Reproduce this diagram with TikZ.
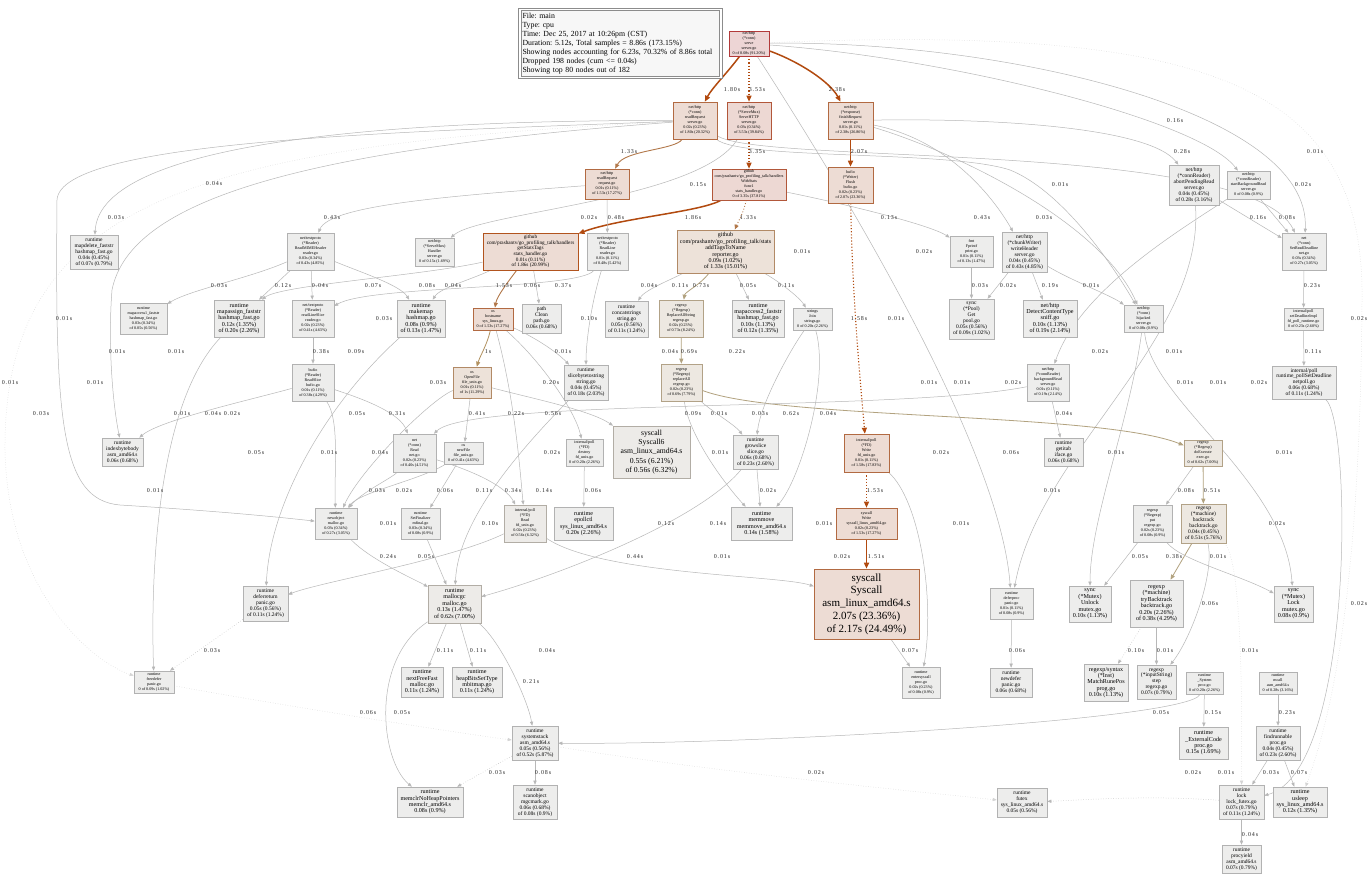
\documentclass[tikz,border=0pt]{standalone}
\usepackage{fontspec}
\setmainfont{Liberation Serif}
\newfontfamily\lblfont{Liberation Serif}[LetterSpace=15]
\usetikzlibrary{arrows.meta}
\pgfdeclarelayer{bg}
\pgfsetlayers{bg,main}
\newcommand{\fszA}{\fontsize{4.1}{5.0}\selectfont}
\newcommand{\fszB}{\fontsize{5.5}{5.9}\selectfont}
\newcommand{\fszC}{\fontsize{6.1}{6.4}\selectfont}
\newcommand{\fszG}{\fontsize{5.2}{5.6}\selectfont}
\newcommand{\fszT}{\fontsize{6.0}{6.4}\selectfont}
\newcommand{\fszD}{\fontsize{7.7}{9.4}\selectfont}
\newcommand{\fszE}{\fontsize{11}{12.7}\selectfont}
\newcommand{\fszL}{\fontsize{7.8}{9}\selectfont\frenchspacing}
\newcommand{\fszN}{\fontsize{6}{6}\selectfont}
\newcommand{\mkbox}[7]{\node[#1, font=#2, minimum width=#3pt, minimum height=#4pt] (#5) at (#6) {#7};}
\definecolor{gF}{HTML}{EDEDEC}\definecolor{gD}{HTML}{B2B2B2}
\definecolor{pF}{HTML}{EDDCD4}\definecolor{pD}{HTML}{B26A42}
\definecolor{rF}{HTML}{EDD5D5}\definecolor{rD}{HTML}{B23A3A}
\definecolor{r2F}{HTML}{EDD8D3}\definecolor{r2D}{HTML}{B2573A}
\definecolor{tF}{HTML}{EDE2D9}\definecolor{tD}{HTML}{B28A66}
\definecolor{bF}{HTML}{EDE8E1}\definecolor{bD}{HTML}{B2A287}
\definecolor{wF}{HTML}{EDEBE8}\definecolor{wD}{HTML}{B2ADA5}
\definecolor{lgF}{HTML}{F7F7F7}
\definecolor{eB}{HTML}{B24A0F}\definecolor{eM}{HTML}{B2784A}
\definecolor{eH}{HTML}{B2915F}\definecolor{eR}{HTML}{B2A27F}
\definecolor{eG}{HTML}{B8B8B8}\definecolor{eF}{HTML}{D4D4D4}
\tikzset{
 box/.style={rectangle, inner sep=0pt, align=center, line width=0.6pt, text=black},
 gn/.style={box, fill=gF, draw=gD},
 pn/.style={box, fill=pF, draw=pD},
 rn/.style={box, fill=rF, draw=rD},
 r2n/.style={box, fill=r2F, draw=r2D},
 tn/.style={box, fill=tF, draw=tD},
 bn/.style={box, fill=bF, draw=bD},
 wn/.style={box, fill=wF, draw=wD},
 lgd/.style={rectangle, draw=black!45, line width=1pt, double=white, double distance=1.4pt, fill=lgF, align=left, text width=196pt, inner xsep=2.5pt, inner ysep=2pt, minimum height=68pt, font=\fszL},
 eb/.style={draw=eB, line width=1.5pt, -{Triangle[length=6pt,width=5pt]}},
 ebd/.style={draw=eB, line width=1.1pt, dotted, -{Triangle[length=6pt,width=5pt]}},
 em/.style={draw=eM, line width=0.9pt, -{Triangle[length=5pt,width=4pt]}},
 eh/.style={draw=eH, line width=0.8pt, -{Triangle[length=5pt,width=4pt]}},
 er/.style={draw=eR, line width=0.8pt, -{Triangle[length=5pt,width=4pt]}},
 eg/.style={draw=eG, line width=0.5pt, -{Triangle[length=4pt,width=3.2pt]}},
 egd/.style={eg, dotted},
 ef/.style={draw=eF, line width=0.5pt, dotted, -{Triangle[length=4pt,width=3.2pt]}},
 lbl/.style={font=\lblfont\fszN, inner sep=0pt, text=black!85}
}
\begin{document}
\begin{tikzpicture}[x=1pt,y=-1pt]
\begin{pgfonlayer}{bg}
\fill[white] (0,0) rectangle (1370,875);
\end{pgfonlayer}
\useasboundingbox (0,0) rectangle (1370,875);

\node[lgd] (lg) at (620.5,43.5) {File: main\\Type: cpu\\Time: Dec 25, 2017 at 10:26pm (CST)\\Duration: 5.12s, Total samples = 8.86s (173.15\%)\\\mbox{Showing nodes accounting for 6.23s, 70.32\% of 8.86s total}\\Dropped 198 nodes (cum <= 0.04s)\\Showing top 80 nodes out of 182};

\mkbox{rn}{\fszA}{40}{25}{srv}{749,43.5}{net/http\\(*conn)\\serve\\server.go\\0 of 8.08s (91.20\%)}
\mkbox{pn}{\fszA}{44}{37}{crr}{695,120.5}{net/http\\(*conn)\\readRequest\\server.go\\0.02s (0.23\%)\\of 1.80s (20.32\%)}
\mkbox{r2n}{\fszA}{44}{37}{smx}{749,120.5}{net/http\\(*ServeMux)\\ServeHTTP\\server.go\\0.03s (0.34\%)\\of 3.53s (39.84\%)}
\mkbox{pn}{\fszA}{45}{37}{fin}{850.5,120.5}{net/http\\(*response)\\finishRequest\\server.go\\0.01s (0.11\%)\\of 2.38s (26.86\%)}
\mkbox{pn}{\fszA}{44}{30}{hrr}{607,184}{net/http\\readRequest\\request.go\\0.01s (0.11\%)\\of 1.53s (17.27\%)}
\mkbox{r2n}{\fszA}{74}{31}{wst}{749,184.5}{github\\com/prashantv/go\_profiling\_talk/handlers\\WithStats\\func1\\stats\_handler.go\\0 of 3.35s (37.81\%)}
\mkbox{pn}{\fszA}{45}{36}{fls}{850.5,185}{bufio\\(*Writer)\\Flush\\bufio.go\\0.02s (0.23\%)\\of 2.07s (23.36\%)}
\mkbox{gn}{\fszB}{50}{40}{apr}{1194,185}{net/http\\(*connReader)\\abortPendingRead\\server.go\\0.04s (0.45\%)\\of 0.28s (3.16\%)}
\mkbox{gn}{\fszA}{43}{28}{sbr}{1248.5,185}{net/http\\(*connReader)\\startBackgroundRead\\server.go\\0 of 0.08s (0.9\%)}
\mkbox{gn}{\fszB}{48}{34}{mdl}{94,252}{runtime\\mapdelete\_faststr\\hashmap\_fast.go\\0.04s (0.45\%)\\of 0.07s (0.79\%)}
\mkbox{gn}{\fszA}{47}{37}{rmh}{310.5,251.5}{net/textproto\\(*Reader)\\ReadMIMEHeader\\reader.go\\0.03s (0.34\%)\\of 0.43s (4.85\%)}
\mkbox{gn}{\fszA}{39}{28}{hdl}{434.5,252}{net/http\\(*ServeMux)\\Handler\\server.go\\0 of 0.15s (1.69\%)}
\mkbox{pn, line width=1pt, draw=eB!70!pD}{\fszG}{95}{37}{gst}{530.5,251.5}{github\\com/prashantv/go\_profiling\_talk/handlers\\getStatsTags\\stats\_handler.go\\0.01s (0.11\%)\\of 1.86s (20.99\%)}
\mkbox{gn}{\fszA}{41}{37}{rdl}{607.5,251.5}{net/textproto\\(*Reader)\\ReadLine\\reader.go\\0.01s (0.11\%)\\of 0.48s (5.42\%)}
\mkbox{tn}{\fszT}{97}{43}{atn}{725.5,251.5}{github\\com/prashantv/go\_profiling\_talk/stats\\addTagsToName\\reporter.go\\0.09s (1.02\%)\\of 1.33s (15.01\%)}
\mkbox{gn}{\fszA}{43}{31}{fpf}{971.5,251.5}{fmt\\Fprintf\\print.go\\0.01s (0.11\%)\\of 0.13s (1.47\%)}
\mkbox{gn}{\fszB}{45}{40}{chw}{1024.5,252}{net/http\\(*chunkWriter)\\writeHeader\\server.go\\0.04s (0.45\%)\\of 0.43s (4.85\%)}
\mkbox{gn}{\fszA}{44}{37}{srd}{1304,251.5}{net\\(*conn)\\SetReadDeadline\\net.go\\0.03s (0.34\%)\\of 0.27s (3.05\%)}
\mkbox{gn}{\fszA}{47}{31}{ma1}{143.5,318.5}{runtime\\mapaccess1\_faststr\\hashmap\_fast.go\\0.03s (0.34\%)\\of 0.05s (0.56\%)}
\mkbox{gn}{\fszC}{50}{37}{mas}{239,318.5}{runtime\\mapassign\_faststr\\hashmap\_fast.go\\0.12s (1.35\%)\\of 0.20s (2.26\%)}
\mkbox{gn}{\fszA}{42}{37}{rls}{313,318.5}{net/textproto\\(*Reader)\\readLineSlice\\reader.go\\0.02s (0.23\%)\\of 0.41s (4.63\%)}
\mkbox{gn}{\fszC}{48}{37}{mkm}{421,318.5}{runtime\\makemap\\hashmap.go\\0.08s (0.9\%)\\of 0.13s (1.47\%)}
\mkbox{pn}{\fszA}{40}{22}{hst}{493,319}{os\\hostname\\sys\_linux.go\\0 of 1.53s (17.27\%)}
\mkbox{gn}{\fszB}{39}{29}{pcl}{541.5,318.5}{path\\Clean\\path.go\\0.06s (0.68\%)}
\mkbox{gn}{\fszB}{43}{36}{cct}{626.5,319}{runtime\\concatstrings\\string.go\\0.05s (0.56\%)\\of 0.11s (1.24\%)}
\mkbox{bn}{\fszA}{44}{37}{ras}{681,318.5}{regexp\\(*Regexp)\\ReplaceAllString\\regexp.go\\0.02s (0.23\%)\\of 0.73s (8.24\%)}
\mkbox{gn}{\fszC}{52}{37}{ma2}{758,318.5}{runtime\\mapaccess2\_faststr\\hashmap\_fast.go\\0.10s (1.13\%)\\of 0.12s (1.35\%)}
\mkbox{gn}{\fszA}{39}{22}{sjn}{812.5,319}{strings\\Join\\strings.go\\0 of 0.20s (2.26\%)}
\mkbox{gn}{\fszB}{45}{40}{pget}{971.5,319}{sync\\(*Pool)\\Get\\pool.go\\0.05s (0.56\%)\\of 0.09s (1.02\%)}
\mkbox{gn}{\fszC}{54}{37}{dct}{1050,318.5}{net/http\\DetectContentType\\sniff.go\\0.10s (1.13\%)\\of 0.19s (2.14\%)}
\mkbox{gn}{\fszA}{39}{27}{hjk}{1143.5,318.5}{net/http\\(*conn)\\hijacked\\server.go\\0 of 0.08s (0.9\%)}
\mkbox{gn}{\fszA}{39}{22}{sdi}{1303.5,319}{internal/poll\\setDeadlineImpl\\fd\_poll\_runtime.go\\0 of 0.23s (2.60\%)}
\mkbox{gn}{\fszA}{42}{37}{rsl}{313,382.5}{bufio\\(*Reader)\\ReadSlice\\bufio.go\\0.01s (0.11\%)\\of 0.38s (4.29\%)}
\mkbox{tn}{\fszA}{38}{31}{opf}{472,382.5}{os\\OpenFile\\file\_unix.go\\0.01s (0.11\%)\\of 1s (11.29\%)}
\mkbox{gn}{\fszB}{44}{35}{sbs}{586,382.5}{runtime\\slicebytetostring\\string.go\\0.04s (0.45\%)\\of 0.18s (2.03\%)}
\mkbox{bn}{\fszA}{41}{37}{rpa}{681.5,382.5}{regexp\\(*Regexp)\\replaceAll\\regexp.go\\0.02s (0.23\%)\\of 0.69s (7.79\%)}
\mkbox{gn}{\fszA}{42}{37}{bgr}{1048,382.5}{net/http\\(*connReader)\\backgroundRead\\server.go\\0.01s (0.11\%)\\of 0.19s (2.14\%)}
\mkbox{gn}{\fszB}{64}{33}{psd}{1304,382.5}{internal/poll\\runtime\_pollSetDeadline\\netpoll.go\\0.06s (0.68\%)\\of 0.11s (1.24\%)}
\mkbox{gn}{\fszB}{41}{28}{ibb}{122.5,452}{runtime\\indexbytebody\\asm\_amd64.s\\0.06s (0.68\%)}
\mkbox{gn}{\fszA}{43}{38}{nrd}{414.5,453}{net\\(*conn)\\Read\\net.go\\0.02s (0.23\%)\\of 0.40s (4.51\%)}
\mkbox{gn}{\fszA}{39}{22}{nfl}{463.5,453}{os\\newFile\\file\_unix.go\\0 of 0.41s (4.63\%)}
\mkbox{gn}{\fszA}{37}{27}{fdd}{584.5,452.5}{internal/poll\\(*FD)\\destroy\\fd\_unix.go\\0 of 0.20s (2.26\%)}
\mkbox{wn}{\fszD}{77}{52}{sc6}{651.5,452}{syscall\\Syscall6\\asm\_linux\_amd64.s\\0.55s (6.21\%)\\of 0.56s (6.32\%)}
\mkbox{gn}{\fszB}{45}{34}{gsl}{755.5,452}{runtime\\growslice\\slice.go\\0.06s (0.68\%)\\of 0.23s (2.60\%)}
\mkbox{pn}{\fszA}{45}{38}{fdw}{866.5,453}{internal/poll\\(*FD)\\Write\\fd\_unix.go\\0.01s (0.11\%)\\of 1.58s (17.83\%)}
\mkbox{gn}{\fszB}{39}{28}{gtb}{1063.5,452}{runtime\\getitab\\iface.go\\0.06s (0.68\%)}
\mkbox{bn}{\fszA}{38}{26}{dex}{1203,453}{regexp\\(*Regexp)\\doExecute\\exec.go\\0 of 0.62s (7.00\%)}
\mkbox{gn}{\fszA}{42}{31}{nob}{336,523.5}{runtime\\newobject\\malloc.go\\0.03s (0.34\%)\\of 0.27s (3.05\%)}
\mkbox{gn}{\fszA}{39}{31}{sfn}{420.5,523.5}{runtime\\SetFinalizer\\mfinal.go\\0.03s (0.34\%)\\of 0.08s (0.9\%)}
\mkbox{wn}{\fszA}{42}{37}{fdr}{525,523.5}{internal/poll\\(*FD)\\Read\\fd\_unix.go\\0.02s (0.23\%)\\of 0.56s (6.32\%)}
\mkbox{gn}{\fszC}{59}{33}{epc}{583.5,523.5}{runtime\\epollctl\\sys\_linux\_amd64.s\\0.20s (2.26\%)}
\mkbox{gn}{\fszC}{61}{33}{mmv}{761.5,523.5}{runtime\\memmove\\memmove\_amd64.s\\0.14s (1.58\%)}
\mkbox{pn}{\fszA}{61}{31}{swr}{866.5,523.5}{syscall\\Write\\syscall\_linux\_amd64.go\\0.02s (0.23\%)\\of 1.53s (17.27\%)}
\mkbox{gn}{\fszA}{39}{37}{rpt}{1152.5,523.5}{regexp\\(*Regexp)\\put\\regexp.go\\0.02s (0.23\%)\\of 0.08s (0.9\%)}
\mkbox{bn}{\fszB}{45}{39}{btk}{1203.5,523.5}{regexp\\(*machine)\\backtrack\\backtrack.go\\0.04s (0.45\%)\\of 0.51s (5.76\%)}
\mkbox{gn}{\fszB}{45}{35}{dfr}{265.5,603.5}{runtime\\deferreturn\\panic.go\\0.05s (0.56\%)\\of 0.11s (1.24\%)}
\mkbox{wn}{\fszC}{53}{38}{mgc}{454.5,604}{runtime\\mallocgc\\malloc.go\\0.13s (1.47\%)\\of 0.62s (7.00\%)}
\mkbox{pn}{\fszE}{105}{70}{scl}{866.5,604}{syscall\\Syscall\\asm\_linux\_amd64.s\\2.07s (23.36\%)\\of 2.17s (24.49\%)}
\mkbox{gn}{\fszA}{43}{31}{dfp}{1011.5,603.5}{runtime\\deferproc\\panic.go\\0.01s (0.11\%)\\of 0.08s (0.9\%)}
\mkbox{gn}{\fszC}{42}{36}{unl}{1090,604}{sync\\(*Mutex)\\Unlock\\mutex.go\\0.10s (1.13\%)}
\mkbox{gn}{\fszC}{53}{47}{tbk}{1156.5,603.5}{regexp\\(*machine)\\tryBacktrack\\backtrack.go\\0.20s (2.26\%)\\of 0.38s (4.29\%)}
\mkbox{gn}{\fszC}{39}{36}{lck}{1293.5,604}{sync\\(*Mutex)\\Lock\\mutex.go\\0.08s (0.9\%)}
\mkbox{gn}{\fszA}{40}{22}{sml}{154,682}{runtime\\freedefer\\panic.go\\0 of 0.09s (1.02\%)}
\mkbox{gn}{\fszC}{42}{30}{nff}{422,682}{runtime\\nextFreeFast\\malloc.go\\0.11s (1.24\%)}
\mkbox{gn}{\fszC}{50}{30}{hbs}{477,682}{runtime\\heapBitsSetType\\mbitmap.go\\0.11s (1.24\%)}
\mkbox{gn}{\fszA}{38}{31}{ens}{921,682.5}{runtime\\entersyscall\\proc.go\\0.02s (0.23\%)\\of 0.08s (0.9\%)}
\mkbox{gn}{\fszB}{42}{29}{ndf}{1011,682.5}{runtime\\newdefer\\panic.go\\0.06s (0.68\%)}
\mkbox{gn}{\fszC}{44}{37}{mrp}{1106,682.5}{regexp/syntax\\(*Inst)\\MatchRunePos\\prog.go\\0.10s (1.13\%)}
\mkbox{gn}{\fszB}{39}{34}{stp}{1156.5,682}{regexp\\(*inputString)\\step\\regexp.go\\0.07s (0.79\%)}
\mkbox{gn}{\fszA}{37}{22}{sys}{1204.5,683}{runtime\\\_System\\proc.go\\0 of 0.20s (2.26\%)}
\mkbox{gn}{\fszA}{38}{22}{mcl}{1278,683}{runtime\\mcall\\asm\_amd64.s\\0 of 0.28s (3.16\%)}
\mkbox{gn}{\fszB}{46}{34}{sst}{535,743}{runtime\\systemstack\\asm\_amd64.s\\0.05s (0.56\%)\\of 0.52s (5.87\%)}
\mkbox{gn}{\fszC}{49}{32}{ext}{1203.5,743}{runtime\\\_ExternalCode\\proc.go\\0.15s (1.69\%)}
\mkbox{gn}{\fszB}{44}{34}{fnr}{1278,743}{runtime\\findrunnable\\proc.go\\0.04s (0.45\%)\\of 0.23s (2.60\%)}
\mkbox{gn}{\fszC}{66}{30}{mcr}{430,802}{runtime\\memclrNoHeapPointers\\memclr\_amd64.s\\0.08s (0.9\%)}
\mkbox{gn}{\fszB}{44}{34}{sco}{535,802}{runtime\\scanobject\\mgcmark.go\\0.06s (0.68\%)\\of 0.08s (0.9\%)}
\mkbox{gn}{\fszB}{50}{29}{ftx}{1022,802.5}{runtime\\futex\\sys\_linux\_amd64.s\\0.05s (0.56\%)}
\mkbox{gn}{\fszB}{45}{34}{lok}{1241.5,802}{runtime\\lock\\lock\_futex.go\\0.07s (0.79\%)\\of 0.11s (1.24\%)}
\mkbox{gn}{\fszC}{54}{30}{usl}{1300,802}{runtime\\usleep\\sys\_linux\_amd64.s\\0.12s (1.35\%)}
\mkbox{gn}{\fszB}{39}{28}{pyd}{1241.5,859}{runtime\\procyield\\asm\_amd64.s\\0.07s (0.79\%)}

\begin{pgfonlayer}{bg}
% strong
\draw[eb] (srv) .. controls (728,72) and (712,88) .. (crr);
\draw[eb] (srv) .. controls (800,62) and (830,82) .. (fin);
\draw[eb] (fin) -- (fls);
\draw[eb] (wst) .. controls (700,212) and (620,218) .. (gst);
\draw[eb] (swr) -- (scl);
\draw[ebd] (srv) -- (smx);
\draw[ebd] (smx) -- (wst);
\draw[ebd] (fls) .. controls (852,300) and (862,400) .. (fdw);
\draw[ebd] (fdw) -- (swr);
% medium
\draw[em] (crr) .. controls (675,150) and (625,150) .. (hrr);
\draw[em, dotted] (wst) .. controls (744,212) and (738,222) .. (atn);
\draw[em] (gst) .. controls (508,282) and (497,296) .. (hst);
\draw[eh] (hst) .. controls (487,345) and (480,356) .. (opf);
% regexp chain
\draw[er] (atn) .. controls (700,285) and (685,292) .. (ras);
\draw[er] (ras) -- (rpa);
\draw[er] (rpa) .. controls (780,420) and (1100,412) .. (dex);
\draw[er] (dex) -- (btk);
\draw[er] (btk) -- (tbk);
% gray
\draw[eg] (smx) .. controls (700,200) and (480,212) .. (hdl);
\draw[eg] (hrr) -- (rdl);
\draw[eg] (hrr) .. controls (450,196) and (330,205) .. (rmh);
\draw[eg] (rmh) -- (mas);
\draw[eg] (rmh) -- (rls);
\draw[eg] (rmh) .. controls (360,272) and (400,285) .. (mkm);
\draw[eg] (rmh) .. controls (250,278) and (190,290) .. (ma1);
\draw[eg] (rdl) .. controls (580,290) and (370,285) .. (rls);
\draw[eg] (rdl) .. controls (592,300) and (586,340) .. (sbs);
\draw[eg] (gst) .. controls (470,280) and (440,288) .. (mkm);
\draw[eg] (gst) -- (pcl);
\draw[eg] (gst) .. controls (420,276) and (280,285) .. (mas);
\draw[eg] (rls) -- (rsl);
\draw[eg] (rsl) .. controls (250,400) and (160,420) .. (ibb);
\draw[eg] (rsl) .. controls (360,398) and (400,412) .. (nrd);
\draw[eg] (hst) .. controls (530,335) and (555,350) .. (sbs);
\draw[eg] (hst) .. controls (515,400) and (520,470) .. (fdr);
\draw[eg] (hst) .. controls (540,360) and (575,410) .. (fdd);
\draw[eg] (opf) -- (nfl);
\draw[eg] (opf) .. controls (530,398) and (590,410) .. (sc6);
\draw[eg] (opf) .. controls (430,400) and (360,470) .. (nob);
\draw[eg] (nfl) -- (sfn);
\draw[eg] (nfl) .. controls (420,480) and (360,492) .. (nob);
\draw[eg] (nrd) .. controls (470,470) and (505,485) .. (fdr);
\draw[eg] (nrd) .. controls (392,478) and (362,492) .. (nob);
\draw[eg] (fdd) -- (epc);
\draw[eg] (fdr) .. controls (600,575) and (780,575) .. (scl);
\draw[eg] (fdr) .. controls (450,560) and (320,582) .. (dfr);
\draw[eg] (nob) .. controls (370,560) and (420,582) .. (mgc);
\draw[eg] (sfn) -- (mgc);
\draw[eg] (sbs) .. controls (520,450) and (458,520) .. (mgc);
\draw[eg] (gsl) .. controls (700,520) and (560,575) .. (mgc);
\draw[eg] (gsl) -- (mmv);
\draw[eg] (rpa) .. controls (710,410) and (735,425) .. (gsl);
\draw[eg] (rpa) .. controls (690,440) and (730,490) .. (mmv);
\draw[eg] (sjn) .. controls (830,380) and (800,480) .. (mmv);
\draw[eg] (atn) -- (ma2);
\draw[eg] (atn) .. controls (780,282) and (800,298) .. (sjn);
\draw[eg] (atn) .. controls (670,280) and (645,290) .. (cct);
\draw[eg] (sjn) .. controls (790,350) and (760,405) .. (gsl);
\draw[eg] (mgc) -- (nff);
\draw[eg] (mgc) -- (hbs);
\draw[eg] (mgc) .. controls (370,660) and (380,760) .. (mcr);
\draw[eg] (mgc) .. controls (500,640) and (528,700) .. (sst);
\draw[egd] (sst) -- (mcr);
\draw[eg] (sst) -- (sco);
\draw[eg] (sys) .. controls (1190,720) and (750,745) .. (sst);
\draw[eg] (sys) -- (ext);
\draw[eg] (mcl) -- (fnr);
\draw[eg] (fnr) -- (lok);
\draw[eg] (fnr) -- (usl);
\draw[eg] (lok) -- (pyd);
\draw[egd] (lok) .. controls (1150,795) and (1080,800) .. (ftx);
\draw[eg] (psd) .. controls (1352,420) and (1355,770) .. (lok);
\draw[eg] (srd) -- (sdi);
\draw[eg] (sdi) -- (psd);
\draw[eg] (apr) -- (srd);
\draw[eg] (sbr) -- (srd);
\draw[eg] (srv) .. controls (1000,40) and (1312,110) .. (srd);
\draw[eg] (srv) .. controls (950,58) and (1200,120) .. (sbr);
\draw[eg] (fin) .. controls (1000,118) and (1150,128) .. (apr);
\draw[eg] (crr) .. controls (760,165) and (1250,140) .. (srd);
\draw[eg] (fin) .. controls (950,140) and (995,200) .. (chw);
\draw[eg] (wst) .. controls (850,205) and (930,225) .. (fpf);
\draw[eg] (fpf) -- (pget);
\draw[eg] (chw) -- (pget);
\draw[eg] (chw) -- (dct);
\draw[eg] (chw) .. controls (1070,280) and (1110,295) .. (hjk);
\draw[eg] (crr) .. controls (740,160) and (950,150) .. (1010,170) .. controls (1060,190) and (1110,260) .. (hjk);
\draw[eg] (fin) .. controls (950,150) and (1100,220) .. (hjk);
\draw[eg] (hjk) .. controls (1130,420) and (1090,520) .. (unl);
\draw[eg] (hjk) .. controls (1150,400) and (1285,480) .. (lck);
\draw[eg] (apr) .. controls (1205,340) and (1040,450) .. (dfp);
\draw[eg] (srv) .. controls (850,200) and (1000,450) .. (dfp);
\draw[eg] (dfp) -- (ndf);
\draw[eg] (bgr) .. controls (900,412) and (470,398) .. (nrd);
\draw[eg] (bgr) -- (gtb);
\draw[eg] (sbr) .. controls (1180,230) and (1080,290) .. (bgr);
\draw[eg] (rpt) -- (unl);
\draw[eg] (rpt) .. controls (1180,560) and (1240,575) .. (lck);
\draw[egd] (tbk) -- (mrp);
\draw[eg] (tbk) -- (stp);
\draw[eg] (btk) .. controls (1215,575) and (1190,640) .. (stp);
\draw[eg] (dex) -- (rpt);
\draw[eg] (scl) -- (ens);
\draw[eg] (fdw) .. controls (920,500) and (935,600) .. (ens);
\draw[egd] (dfr) -- (sml);
\draw[eg] (mas) .. controls (160,400) and (150,560) .. (sml);
\draw[eg] (mkm) .. controls (330,400) and (270,500) .. (dfr);
\draw[eg] (rsl) .. controls (340,420) and (334,470) .. (nob);
\draw[eg] (crr) .. controls (400,120) and (100,140) .. (mdl);
\draw[eg] (crr) .. controls (400,132) and (60,140) .. (57,200) .. controls (55,420) and (60,500) .. (120,505) .. controls (200,510) and (260,515) .. (nob);
\draw[eg] (crr) .. controls (300,150) and (130,200) .. (112,290) .. controls (108,340) and (112,400) .. (ibb);
% faint dotted
\draw[ef] (crr) .. controls (200,145) and (3,200) .. (5,450) .. controls (8,600) and (100,665) .. (sml);
\draw[ef] (sst) .. controls (700,770) and (900,790) .. (ftx);
\draw[ef] (sml) .. controls (250,700) and (450,732) .. (sst);
\draw[ef] (btk) .. controls (1242,560) and (1242,700) .. (lok);
\draw[ef] (srv) .. controls (1200,25) and (1365,80) .. (1362,300) .. controls (1360,600) and (1330,720) .. (usl);
\end{pgfonlayer}

\foreach \lx/\ly/\lt [count=\li] in {
214/184/0.04s, 116/218/0.03s, 332/218/0.43s, 219/286/0.03s, 283/286/0.12s, 320/286/0.04s,
629/152/1.33s, 589/218/0.02s, 616/218/0.48s, 373/286/0.07s, 427/286/0.08s, 453/286/0.04s, 504/286/1.53s, 532/286/0.06s, 563/286/0.37s, 649/286/0.04s, 680/286/0.11s,
732/90/1.80s, 757/90/3.53s, 837/90/2.38s, 757/152/3.35s, 859/152/2.07s, 698/185/0.15s, 693/218/1.86s, 748/218/1.33s, 889/218/0.13s, 982/218/0.43s, 802/252/0.01s, 924/252/0.02s, 701/286/0.73s, 748/286/0.05s, 786/286/0.11s, 980/286/0.03s, 1008/286/0.02s,
1175/121/0.16s, 1182/152/0.28s, 1315/152/0.01s, 1060/185/0.01s, 1303/185/0.02s, 1044/218/0.03s, 1258/218/0.16s, 1287/218/0.08s, 1050/286/0.19s, 1091/286/0.01s, 1312/286/0.23s,
64/319/0.01s, 117/352/0.01s, 176/352/0.01s, 321/352/0.38s, 10/383/0.01s, 95/383/0.01s, 41/414/0.03s, 182/414/0.01s, 213/414/0.04s, 232/414/0.02s, 256/453/0.05s, 329/453/0.01s, 155/491/0.01s,
384/319/0.03s, 589/319/0.10s, 356/352/0.09s, 488/352/1s, 563/352/0.01s, 670/352/0.04s, 438/383/0.03s, 551/383/0.20s, 357/414/0.05s, 397/414/0.31s, 477/414/0.41s, 516/414/0.22s, 553/414/0.56s, 380/453/0.04s, 552/453/0.02s, 377/491/0.03s, 404/491/0.02s, 445/491/0.06s, 484/491/0.11s, 513/491/0.34s, 544/491/0.14s, 593/491/0.06s, 388/524/0.01s, 490/524/0.10s, 666/524/0.12s, 388/557/0.24s, 426/557/0.05s, 635/557/0.44s,
859/319/1.58s, 896/319/0.01s, 689/352/0.69s, 737/352/0.22s, 929/383/0.01s, 962/383/0.01s, 1013/383/0.02s, 693/414/0.09s, 719/414/0.01s, 760/414/0.03s, 791/414/0.62s, 828/414/0.04s, 720/453/0.01s, 941/453/0.02s, 1011/453/0.06s, 768/491/0.02s, 875/491/1.53s, 718/524/0.14s, 824/524/0.01s, 961/524/0.01s, 722/557/0.01s, 842/557/0.02s, 876/557/1.51s,
1359/319/0.02s, 1100/352/0.02s, 1174/352/0.01s, 1313/352/0.11s, 1185/383/0.01s, 1218/383/0.01s, 1259/383/0.02s, 1064/414/0.04s, 1116/453/0.01s, 1284/453/0.01s, 1052/491/0.01s, 1186/491/0.08s, 1212/491/0.51s, 1277/524/0.02s, 1140/557/0.05s, 1174/557/0.38s, 1218/557/0.01s,
212/651/0.03s,
445/651/0.11s, 478/651/0.11s, 547/651/0.04s, 531/682/0.21s, 368/713/0.06s, 402/713/0.05s, 497/773/0.03s, 543/773/0.08s,
910/651/0.07s, 1017/651/0.06s, 816/773/0.02s,
1210/604/0.06s, 1359/604/0.02s, 1136/651/0.10s, 1165/651/0.01s, 1250/651/0.01s, 1161/713/0.05s, 1213/713/0.15s, 1287/713/0.23s, 1193/773/0.02s, 1226/773/0.01s, 1271/773/0.03s, 1299/773/0.07s, 1250/835/0.04s}
 {\node[lbl] (L\li) at (\lx,\ly) {\lt};}
\end{tikzpicture}
\end{document}
